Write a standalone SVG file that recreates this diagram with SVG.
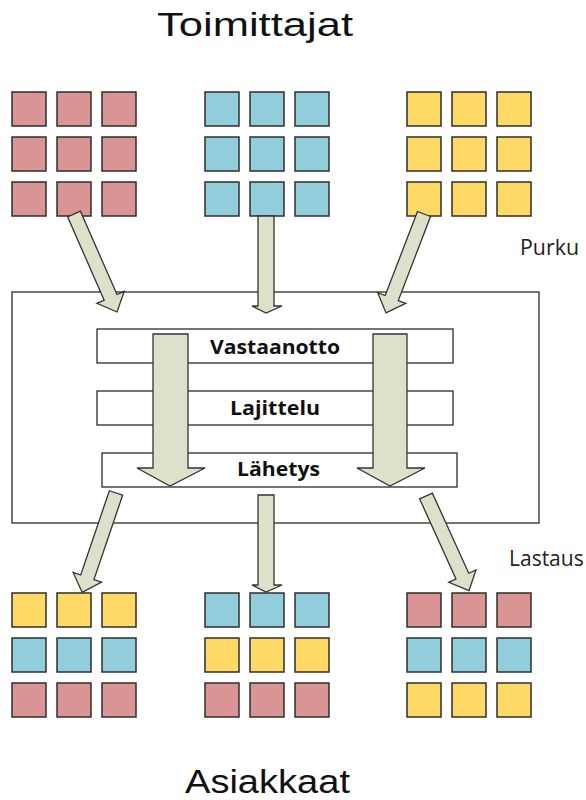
<svg xmlns="http://www.w3.org/2000/svg" width="586" height="800" viewBox="0 0 586 800">
<style>
.r{fill:#d99594}.b{fill:#92cddc}.y{fill:#ffd966}
rect.sq{stroke:#2e2e2e;stroke-width:1.5}
.box{fill:#fff;stroke:#1a1a1a;stroke-width:1.2}
.arr{fill:#dde1c9;stroke:#333;stroke-width:1.3;stroke-linejoin:miter}
.title{font-family:"Liberation Sans","Open Sans",sans-serif;font-size:34px;fill:#111}
.lbl{font-family:"Open Sans","Liberation Sans",sans-serif;font-size:21px;fill:#222}
.stage{font-family:"Open Sans","Liberation Sans",sans-serif;font-size:20px;font-weight:bold;fill:#111}
</style>
<rect width="586" height="800" fill="#fff"/>
<text class="title" x="157" y="36" textLength="196" lengthAdjust="spacingAndGlyphs">Toimittajat</text>
<text class="title" x="185" y="793" textLength="165" lengthAdjust="spacingAndGlyphs">Asiakkaat</text>
<text class="lbl" x="520" y="255" textLength="59" lengthAdjust="spacingAndGlyphs">Purku</text>
<text class="lbl" x="509" y="566">Lastaus</text>

<g id="supplier-red">
<rect class="sq r" x="12" y="92" width="34" height="34"/><rect class="sq r" x="57" y="92" width="34" height="34"/><rect class="sq r" x="102" y="92" width="34" height="34"/>
<rect class="sq r" x="12" y="137" width="34" height="34"/><rect class="sq r" x="57" y="137" width="34" height="34"/><rect class="sq r" x="102" y="137" width="34" height="34"/>
<rect class="sq r" x="12" y="182" width="34" height="34"/><rect class="sq r" x="57" y="182" width="34" height="34"/><rect class="sq r" x="102" y="182" width="34" height="34"/>
</g>
<g id="supplier-blue">
<rect class="sq b" x="205" y="92" width="34" height="34"/><rect class="sq b" x="250" y="92" width="34" height="34"/><rect class="sq b" x="295" y="92" width="34" height="34"/>
<rect class="sq b" x="205" y="137" width="34" height="34"/><rect class="sq b" x="250" y="137" width="34" height="34"/><rect class="sq b" x="295" y="137" width="34" height="34"/>
<rect class="sq b" x="205" y="182" width="34" height="34"/><rect class="sq b" x="250" y="182" width="34" height="34"/><rect class="sq b" x="295" y="182" width="34" height="34"/>
</g>
<g id="supplier-yellow">
<rect class="sq y" x="407" y="92" width="34" height="34"/><rect class="sq y" x="452" y="92" width="34" height="34"/><rect class="sq y" x="497" y="92" width="34" height="34"/>
<rect class="sq y" x="407" y="137" width="34" height="34"/><rect class="sq y" x="452" y="137" width="34" height="34"/><rect class="sq y" x="497" y="137" width="34" height="34"/>
<rect class="sq y" x="407" y="182" width="34" height="34"/><rect class="sq y" x="452" y="182" width="34" height="34"/><rect class="sq y" x="497" y="182" width="34" height="34"/>
</g>

<g id="terminal">
<rect class="box" x="12" y="292" width="527" height="231"/>
</g>
<g id="vastaanotto">
<rect class="box" x="97" y="329" width="356" height="34"/>
<text class="stage" x="210" y="354" textLength="130" lengthAdjust="spacingAndGlyphs">Vastaanotto</text>
</g>
<g id="lajittelu">
<rect class="box" x="97" y="391" width="356" height="34"/>
<text class="stage" x="230" y="415" textLength="90" lengthAdjust="spacingAndGlyphs">Lajittelu</text>
</g>
<g id="lahetys">
<rect class="box" x="102" y="453" width="355" height="34"/>
<text class="stage" x="237" y="476" textLength="83" lengthAdjust="spacingAndGlyphs">Lähetys</text>
</g>

<g id="customer-1">
<rect class="sq y" x="12" y="593" width="34" height="34"/><rect class="sq y" x="57" y="593" width="34" height="34"/><rect class="sq y" x="102" y="593" width="34" height="34"/>
<rect class="sq b" x="12" y="638" width="34" height="34"/><rect class="sq b" x="57" y="638" width="34" height="34"/><rect class="sq b" x="102" y="638" width="34" height="34"/>
<rect class="sq r" x="12" y="683" width="34" height="34"/><rect class="sq r" x="57" y="683" width="34" height="34"/><rect class="sq r" x="102" y="683" width="34" height="34"/>
</g>
<g id="customer-2">
<rect class="sq b" x="205" y="593" width="34" height="34"/><rect class="sq b" x="250" y="593" width="34" height="34"/><rect class="sq b" x="295" y="593" width="34" height="34"/>
<rect class="sq y" x="205" y="638" width="34" height="34"/><rect class="sq y" x="250" y="638" width="34" height="34"/><rect class="sq y" x="295" y="638" width="34" height="34"/>
<rect class="sq r" x="205" y="683" width="34" height="34"/><rect class="sq r" x="250" y="683" width="34" height="34"/><rect class="sq r" x="295" y="683" width="34" height="34"/>
</g>
<g id="customer-3">
<rect class="sq r" x="407" y="593" width="34" height="34"/><rect class="sq r" x="452" y="593" width="34" height="34"/><rect class="sq r" x="497" y="593" width="34" height="34"/>
<rect class="sq b" x="407" y="638" width="34" height="34"/><rect class="sq b" x="452" y="638" width="34" height="34"/><rect class="sq b" x="497" y="638" width="34" height="34"/>
<rect class="sq y" x="407" y="683" width="34" height="34"/><rect class="sq y" x="452" y="683" width="34" height="34"/><rect class="sq y" x="497" y="683" width="34" height="34"/>
</g>

<g id="connectors">
<polygon class="arr" transform="translate(74,214) rotate(-23.7)" points="-7,0 7,0 7,91 15,91 0,107 -15,91 -7,91"/>
<polygon class="arr" points="258,216 274,216 274,306 282,306 266,313 252,306 258,306"/>
<polygon class="arr" transform="translate(424,214) rotate(21)" points="-7,0 7,0 7,90 15,90 0,106 -15,90 -7,90"/>
<polygon class="arr" points="153,334 188,334 188,468 205,468 170,486 137,468 153,468"/>
<polygon class="arr" points="373,334 407,334 407,468 425,468 390,486 357,468 373,468"/>
<polygon class="arr" transform="translate(116,493) rotate(18.8)" points="-7,0 7,0 7,89 15,89 0,105 -15,89 -7,89"/>
<polygon class="arr" points="258,495 274,495 274,585 282,585 266,592 252,585 258,585"/>
<polygon class="arr" transform="translate(426,496) rotate(-24.4)" points="-7,0 7,0 7,88 15,88 0,104 -15,88 -7,88"/>
</g>
</svg>
